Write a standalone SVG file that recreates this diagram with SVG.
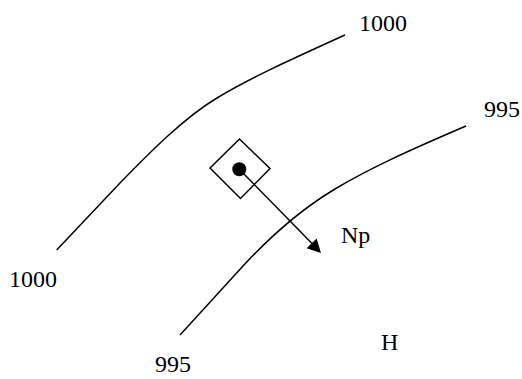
<svg xmlns="http://www.w3.org/2000/svg" width="522" height="379" viewBox="0 0 522 379">
<style>
.ln{fill:none;stroke:#000;stroke-width:1.5}
.t{font-family:"Liberation Serif","Times New Roman",serif;font-size:24px;fill:#000}
</style>
<rect width="522" height="379" fill="#fff"/>
<g id="isobar-1000">
<path class="ln" d="M56.7,250 L120,183 C150,152 185,117 217,98 C250,78 290,60 345,35"/>
<text class="t" x="359" y="31">1000</text>
<text class="t" x="9" y="287">1000</text>
</g>
<g id="isobar-995">
<path class="ln" d="M180,335 L243,266 C268,239 300,210 335,189 C370,168 410,150 466,126"/>
<text class="t" x="484" y="117">995</text>
<text class="t" x="155" y="372">995</text>
</g>
<g id="station">
<polygon class="ln" points="239.5,139 270,168.5 240.5,198.5 210,168"/>
<circle cx="239.3" cy="169.2" r="7" fill="#000"/>
</g>
<g id="connectors">
<line class="ln" x1="239.3" y1="169.2" x2="313" y2="244.5"/>
<polygon points="321,253 306.6,248.2 316.6,238.4" fill="#000"/>
</g>
<g id="labels">
<text class="t" x="341" y="243">Np</text>
<text class="t" x="381" y="350">H</text>
</g>
</svg>
